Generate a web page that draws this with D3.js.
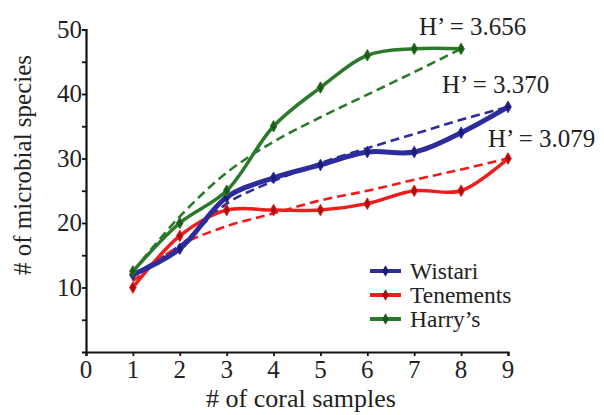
<!DOCTYPE html>
<html>
<head>
<meta charset="utf-8">
<script src="https://cdn.jsdelivr.net/npm/d3@7"></script>
<style>
  body { margin: 0; background: #fff; }
</style>
</head>
<body>
<svg id="chart" width="604" height="415"></svg>
<script>
// sample counts on the x axis
const samples = [1, 2, 3, 4, 5, 6, 7, 8, 9];

// observed species counts per site
const wistari   = [12, 16, 24, 27, 29, 31, 31, 34, 38];
const tenements = [10, 18, 22, 22, 22, 23, 25, 25, 30];
const harrys    = [12.5, 20, 25, 35, 41, 46, 47, 47];

// dashed fitted curves
const wistariFit   = [12, 16.5, 23, 26.5, 29.3, 31.6, 33.8, 36, 38];
const tenementsFit = [11, 16.5, 19.5, 21.5, 23.5, 25, 26.7, 28.3, 30];
const harrysFit    = [12.5, 21, 27.8, 32.6, 36.4, 39.9, 43.4, 47];

const xTicks = [0, 1, 2, 3, 4, 5, 6, 7, 8, 9];
const yTicks = [10, 20, 30, 40, 50];
const yMinor = [5, 15, 25, 35, 45];

const legendNames = ['Wistari', 'Tenements', "Harry\u2019s"];
const diversity = ['H\u2019 = 3.656', 'H\u2019 = 3.370', 'H\u2019 = 3.079'];

const FONT = '"Liberation Serif", "DejaVu Serif", serif';

const svg = d3.select('#chart');

const x = d3.scaleLinear().domain([0, 9]).range([86, 508]);
const y = d3.scaleLinear().domain([0, 50]).range([352, 29.5]);

const series = [
    {name: legendNames[0], vals: wistari,   fit: wistariFit,   color: '#2c2c9c', dark: '#1a1a78', width: 5},
    {name: legendNames[1], vals: tenements, fit: tenementsFit, color: '#f01c1c', dark: '#a81010', width: 3.5},
    {name: legendNames[2], vals: harrys,    fit: harrysFit,    color: '#2b7a2b', dark: '#1c5a1c', width: 3.5}
];

const line = d3.line()
    .x((d, i) => x(samples[i]))
    .y(d => y(d))
    .curve(d3.curveCatmullRom.alpha(0.5));

function addText(tx, ty, str, size, anchor) {
    return svg.append('text')
        .attr('x', tx).attr('y', ty)
        .attr('font-family', FONT)
        .attr('font-size', size)
        .attr('fill', '#222')
        .attr('text-anchor', anchor || 'start')
        .text(str);
}

// axes
const yAxis = svg.append('g')
    .attr('transform', `translate(${x(0)},0)`)
    .call(d3.axisLeft(y).tickValues(yTicks.concat(yMinor)).tickSize(4).tickFormat(''));
const xAxis = svg.append('g')
    .attr('transform', `translate(0,${y(0)})`)
    .call(d3.axisBottom(x).tickValues(xTicks).tickSize(4).tickFormat(''));
[yAxis, xAxis].forEach(a => {
    a.select('.domain').attr('stroke', '#111').attr('stroke-width', 2.2);
    a.selectAll('.tick line').attr('stroke', '#111').attr('stroke-width', 1.8);
});

yTicks.forEach(d => addText(82, y(d) + 8, d, 25, 'end'));
xTicks.forEach(d => addText(x(d), 378, d, 25, 'middle'));

addText(301, 407, '# of coral samples', 26, 'middle');

svg.append('text')
    .attr('transform', 'translate(31,165) rotate(-90)')
    .attr('text-anchor', 'middle')
    .attr('font-family', FONT)
    .attr('font-size', 25)
    .attr('fill', '#222')
    .text('# of microbial species');

// dashed fits behind the data lines
series.forEach(s => {
    svg.append('path')
        .datum(s.fit)
        .attr('d', line)
        .attr('fill', 'none')
        .attr('stroke', s.color)
        .attr('stroke-width', 2.6)
        .attr('stroke-dasharray', '9,5');
});

const diamond = d3.symbol().type(d3.symbolDiamond).size(38);

[series[1], series[0], series[2]].forEach(s => {
    svg.append('path')
        .datum(s.vals)
        .attr('d', line)
        .attr('fill', 'none')
        .attr('stroke', s.color)
        .attr('stroke-width', s.width)
        .attr('stroke-linejoin', 'round');
    svg.selectAll(null).data(s.vals).join('path')
        .attr('transform', (d, i) => `translate(${x(samples[i])},${y(d)})`)
        .attr('d', diamond)
        .attr('fill', s.dark)
        .attr('stroke', s.color)
        .attr('stroke-width', 1);
});

// diversity labels at the line ends
const labelPos = [[419, 35], [442, 93], [488, 147]];
diversity.forEach((t, i) => addText(labelPos[i][0], labelPos[i][1], t, 25));

// legend
series.forEach((s, i) => {
    const ly = 271 + i * 24;
    svg.append('line')
        .attr('x1', 370).attr('x2', 401).attr('y1', ly).attr('y2', ly)
        .attr('stroke', s.color).attr('stroke-width', 4);
    svg.append('path')
        .attr('transform', `translate(385.5,${ly})`)
        .attr('d', diamond)
        .attr('fill', s.dark);
    addText(410, ly + 7.5, s.name, 23.5);
});
</script>
</body>
</html>
